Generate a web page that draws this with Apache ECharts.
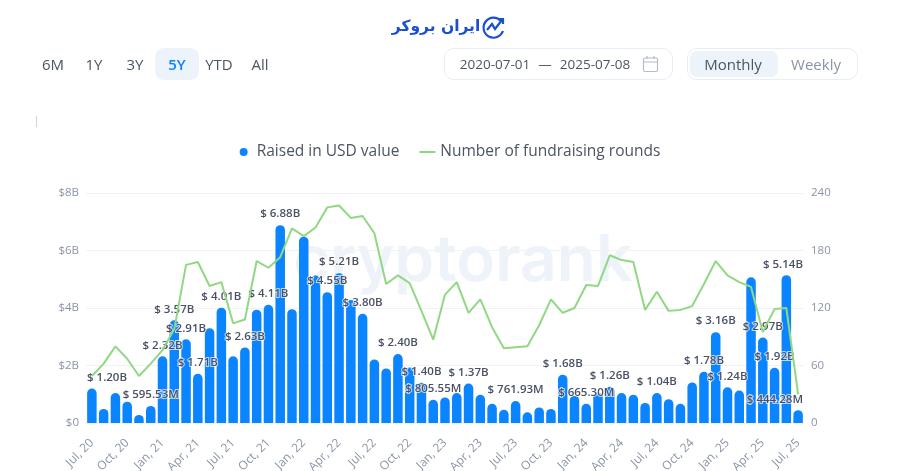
<!DOCTYPE html>
<html lang="en">
<head>
<meta charset="UTF-8">
<title>Fundraising</title>
<script src="https://cdn.jsdelivr.net/npm/echarts@6/dist/echarts.min.js"></script>
<style>
    html, body { margin: 0; background: #fff; }
    body { width: 900px; height: 471px; position: relative; overflow: hidden; font-family: "Open Sans", "Noto Sans", sans-serif; }
    #chart { position: absolute; left: 0; top: 0; width: 900px; height: 471px; }
    .t { position: absolute; transform: translate(-50%, -50%); font-size: 15px; color: #4b5563; white-space: nowrap; }
    .box { position: absolute; box-sizing: border-box; }
</style>
</head>
<body>

<div id="chart"></div>

<!-- header controls -->
<svg class="box" style="left:481px;top:14px" width="26" height="26" viewBox="0 0 26 26" fill="none" stroke="#1a4fd0" stroke-width="2.2">
    <path d="M20 7 A10 10 0 1 0 22 17"/>
    <path d="M6 16 L11 10 L14 15 L21 6"/>
    <path d="M17 5 H22 V10"/>
</svg>
<div class="t" style="left:436px;top:26px;font-size:15.5px;font-weight:700;color:#1a4fd0;font-family:'DejaVu Sans'" dir="rtl">ایران بروکر</div>

<div class="box" style="left:155px;top:48px;width:44px;height:32px;background:#edf3fa;border-radius:9px"></div>
<div class="t" style="left:53px;top:64px">6M</div>
<div class="t" style="left:94px;top:64px">1Y</div>
<div class="t" style="left:135px;top:64px">3Y</div>
<div class="t" style="left:177px;top:64px;color:#0a84ff;font-weight:600">5Y</div>
<div class="t" style="left:219px;top:64px">YTD</div>
<div class="t" style="left:260px;top:64px">All</div>

<div class="box" style="left:444px;top:48px;width:229px;height:32px;border:1px solid #e8edf3;border-radius:10px"></div>
<div class="t" style="left:495px;top:64px;font-size:13.5px">2020-07-01</div>
<div class="t" style="left:545px;top:64px;font-size:13.5px">—</div>
<div class="t" style="left:595px;top:64px;font-size:13.5px">2025-07-08</div>
<svg class="box" style="left:642px;top:55px" width="17" height="18" viewBox="0 0 17 18" fill="none" stroke="#b4bcc8" stroke-width="1.2">
    <rect x="1.5" y="3" width="14" height="13.5" rx="1.5"/>
    <path d="M1.5 7 H15.5 M5 1 V4 M12 1 V4"/>
</svg>

<div class="box" style="left:687px;top:48px;width:171px;height:32px;border:1px solid #e8edf3;border-radius:10px"></div>
<div class="box" style="left:690px;top:51px;width:88px;height:26px;background:#edf3fa;border-radius:7px"></div>
<div class="t" style="left:733px;top:64px">Monthly</div>
<div class="t" style="left:816px;top:64px;color:#8a94a6">Weekly</div>

<div class="box" style="left:36px;top:116px;width:1px;height:11px;background:#cfd4da"></div>

<script>
var months = [
    'Jul, 20','Aug, 20','Sep, 20','Oct, 20','Nov, 20','Dec, 20',
    'Jan, 21','Feb, 21','Mar, 21','Apr, 21','May, 21','Jun, 21','Jul, 21','Aug, 21','Sep, 21','Oct, 21','Nov, 21','Dec, 21',
    'Jan, 22','Feb, 22','Mar, 22','Apr, 22','May, 22','Jun, 22','Jul, 22','Aug, 22','Sep, 22','Oct, 22','Nov, 22','Dec, 22',
    'Jan, 23','Feb, 23','Mar, 23','Apr, 23','May, 23','Jun, 23','Jul, 23','Aug, 23','Sep, 23','Oct, 23','Nov, 23','Dec, 23',
    'Jan, 24','Feb, 24','Mar, 24','Apr, 24','May, 24','Jun, 24','Jul, 24','Aug, 24','Sep, 24','Oct, 24','Nov, 24','Dec, 24',
    'Jan, 25','Feb, 25','Mar, 25','Apr, 25','May, 25','Jun, 25','Jul, 25'
];

// raised, in billions of USD
var raised = [
    1.20, 0.49, 1.04, 0.74, 0.28, 0.59553,
    2.32, 3.57, 2.91, 1.71, 3.30, 4.01, 2.32, 2.63, 3.94, 4.11, 6.88, 3.96,
    6.48, 5.13, 4.55, 5.21, 4.28, 3.80, 2.21, 1.90, 2.40, 1.93, 1.40, 0.80555,
    0.89, 1.04, 1.37, 0.98, 0.67, 0.46, 0.76193, 0.37, 0.54, 0.49, 1.68, 0.95,
    0.6653, 1.06, 1.26, 1.04, 0.98, 0.70, 1.04, 0.83, 0.67, 1.41, 1.78, 3.16,
    1.24, 1.13, 5.07, 2.97, 1.92, 5.14, 0.44428
];

var rounds = [
    49, 62, 80, 67, 49, 62,
    76, 98, 165, 168, 143, 147, 104, 108, 169, 162, 173, 203,
    195, 204, 225, 227, 214, 216, 198, 145, 154, 146, 117, 87,
    134, 147, 115, 129, 100, 78, 79, 80, 102, 129, 115, 120,
    144, 143, 175, 170, 168, 118, 137, 117, 118, 122, 145, 169,
    154, 147, 142, 95, 119, 120, 30
];

// months whose bar carries a value label
var labelled = [
    'Jul, 20','Dec, 20','Jan, 21','Feb, 21','Mar, 21','Apr, 21','Jun, 21','Aug, 21','Oct, 21','Nov, 21',
    'Mar, 22','Apr, 22','Jun, 22','Sep, 22','Nov, 22','Dec, 22','Mar, 23','Jul, 23','Nov, 23',
    'Jan, 24','Mar, 24','Jul, 24','Nov, 24','Dec, 24','Jan, 25','Apr, 25','May, 25','Jun, 25','Jul, 25'
];

function money(v) {
    return v >= 1 ? '$ ' + v.toFixed(2) + 'B' : '$ ' + (v * 1000).toFixed(2) + 'M';
}

var gridLeft = 86;
var gridRight = 804;

var myChart = echarts.init(document.getElementById('chart'));

var option = {
    animation: false,
    graphic: [{
        type: 'text',
        left: 293,
        top: 230,
        silent: true,
        z: 0,
        style: { text: 'cryptorank', fontSize: 64, fontWeight: 600, fontFamily: 'Inter', fill: '#eef3fa' }
    }],
    legend: {
        top: 139,
        left: 'center',
        itemWidth: 16,
        itemHeight: 8,
        itemGap: 19,
        textStyle: { fontSize: 15.5, color: '#4b5563', fontFamily: 'Open Sans' },
        data: [
            { name: 'Raised in USD value', icon: 'circle' },
            { name: 'Number of fundraising rounds', itemStyle: { opacity: 0 } }
        ]
    },
    // outerBoundsMode off, otherwise v6 shrinks the grid to fit the rotated labels
    grid: { left: gridLeft, right: 900 - gridRight, top: 193, bottom: 48, outerBoundsMode: 'none' },
    xAxis: {
        type: 'category',
        data: months,
        axisLine: { show: false },
        axisTick: { show: false },
        axisLabel: { interval: 2, rotate: 45, fontSize: 12, color: '#8a94a6', fontFamily: 'Open Sans', margin: 18 }
    },
    yAxis: [
        {
            type: 'value',
            min: 0,
            max: 8,
            interval: 2,
            axisLabel: { formatter: function (v) { return v === 0 ? '$0' : '$' + v + 'B'; }, fontSize: 11.5, color: '#8a94a6', fontFamily: 'Open Sans', margin: 7 },
            splitLine: { lineStyle: { color: '#f0f2f5' } }
        },
        {
            type: 'value',
            min: 0,
            max: 240,
            interval: 60,
            axisLabel: { fontSize: 11.5, color: '#8a94a6', fontFamily: 'Open Sans', margin: 7 },
            splitLine: { show: false }
        }
    ],
    series: [
        {
            name: 'Raised in USD value',
            type: 'bar',
            data: raised,
            barWidth: 9.5,
            itemStyle: { color: '#0a84ff', borderRadius: [5, 5, 0, 0] },
            label: {
                show: true,
                position: 'top',
                distance: 5,
                fontSize: 11.5,
                fontWeight: 600,
                fontFamily: 'Open Sans',
                color: '#4a5166',
                textBorderColor: 'rgba(255,255,255,0.7)',
                textBorderWidth: 2,
                formatter: function (p) { return labelled.indexOf(p.name) >= 0 ? money(p.value) : ''; }
            },
            // keep labels inside the plot area, as the original does
            labelLayout: function (p) {
                var r = p.labelRect;
                if (r.x < gridLeft) return { dx: gridLeft - r.x };
                if (r.x + r.width > gridRight) return { dx: gridRight - r.x - r.width };
                return {};
            }
        },
        {
            name: 'Number of fundraising rounds',
            type: 'line',
            yAxisIndex: 1,
            data: rounds,
            symbol: 'none',
            lineStyle: { color: '#90d883', width: 2 },
            itemStyle: { color: '#90d883' }
        }
    ]
};

myChart.setOption(option);
</script>

</body>
</html>
